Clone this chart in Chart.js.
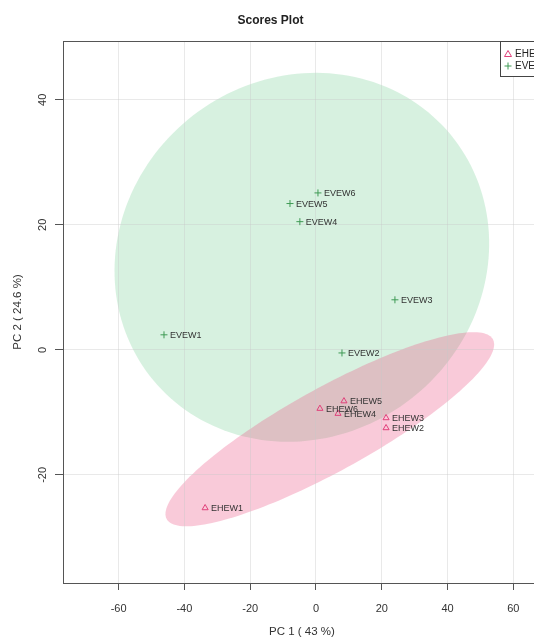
<!DOCTYPE html>
<html>
<head>
<meta charset="utf-8">
<title>Scores Plot</title>
<script src="https://cdn.jsdelivr.net/npm/chart.js@4/dist/chart.umd.min.js"></script>
<style>
  html, body { margin: 0; padding: 0; background: #fff; overflow: hidden; }
  #wrap { width: 534px; height: 642px; overflow: hidden; }
</style>
</head>
<body>
<div id="wrap"><canvas id="chart" width="594" height="642"></canvas></div>
<script>
// PCA scores, two groups
const ehewNames = ['EHEW1', 'EHEW2', 'EHEW3', 'EHEW4', 'EHEW5', 'EHEW6'];
const ehewPC1 = [-33.7, 21.3, 21.3, 6.7, 8.5, 1.2];
const ehewPC2 = [-25.3, -12.5, -10.9, -10.2, -8.2, -9.4];

const evewNames = ['EVEW1', 'EVEW2', 'EVEW3', 'EVEW4', 'EVEW5', 'EVEW6'];
const evewPC1 = [-46.2, 7.9, 24.0, -4.9, -7.9, 0.6];
const evewPC2 = [2.4, -0.5, 8.0, 20.5, 23.4, 25.1];

// 95% ellipses per group (EHEW, EVEW), in score units
const ellipseCenterX = [4.2, -4.3];
const ellipseCenterY = [-12.7, 14.8];
const ellipseSemiA = [51.8, 57.0];
const ellipseSemiB = [7.3, 29.4];
const ellipseAngleDeg = [15.5, 3.0];

const groupLabels = ['EHEW', 'EVEW'];
const xTicks = [-60, -40, -20, 0, 20, 40, 60];
const yTicks = [-20, 0, 20, 40];

const pink = '#e0407a';
const green = '#3f9a55';
const ellipseFills = ['rgba(236, 80, 130, 0.30)', 'rgba(20, 170, 70, 0.17)'];
const FONT = '"Liberation Sans", Arial, sans-serif';

function toPoints(xs, ys) {
  return xs.map((x, i) => ({ x: x, y: ys[i] }));
}

// ellipses go under the grid, so draw them before the scales
const ellipsePlugin = {
  id: 'ellipses',
  beforeDraw(chart) {
    const { ctx, chartArea, scales } = chart;
    ctx.save();
    ctx.beginPath();
    ctx.rect(chartArea.left, chartArea.top, chartArea.right - chartArea.left, chartArea.bottom - chartArea.top);
    ctx.clip();
    // EVEW first, EHEW on top
    [1, 0].forEach(g => {
      const th = ellipseAngleDeg[g] * Math.PI / 180;
      ctx.beginPath();
      for (let k = 0; k <= 180; k++) {
        const t = k / 180 * Math.PI * 2;
        const dx = ellipseSemiA[g] * Math.cos(t), dy = ellipseSemiB[g] * Math.sin(t);
        const vx = ellipseCenterX[g] + dx * Math.cos(th) - dy * Math.sin(th);
        const vy = ellipseCenterY[g] + dx * Math.sin(th) + dy * Math.cos(th);
        const px = scales.x.getPixelForValue(vx), py = scales.y.getPixelForValue(vy);
        if (k === 0) ctx.moveTo(px, py); else ctx.lineTo(px, py);
      }
      ctx.closePath();
      ctx.fillStyle = ellipseFills[g];
      ctx.fill();
    });
    ctx.restore();
  }
};

// sample names, box, rotated y tick labels, legend
const annotatePlugin = {
  id: 'annotate',
  afterDatasetsDraw(chart) {
    const { ctx, chartArea, scales } = chart;
    const names = [ehewNames, evewNames];
    ctx.save();
    ctx.font = '9px ' + FONT;
    ctx.fillStyle = '#333';
    ctx.textBaseline = 'middle';
    ctx.textAlign = 'left';
    chart.data.datasets.forEach((ds, i) => {
      chart.getDatasetMeta(i).data.forEach((pt, j) => {
        ctx.fillText(names[i][j], pt.x + 6, pt.y + 0.5);
      });
    });

    ctx.strokeStyle = '#555';
    ctx.lineWidth = 1;
    ctx.strokeRect(chartArea.left + 0.5, chartArea.top + 0.5, chartArea.right - chartArea.left, chartArea.bottom - chartArea.top);

    ctx.font = '11px ' + FONT;
    ctx.fillStyle = '#333';
    ctx.textAlign = 'center';
    yTicks.forEach(v => {
      const y = scales.y.getPixelForValue(v);
      ctx.save();
      ctx.translate(43, y);
      ctx.rotate(-Math.PI / 2);
      ctx.fillText(String(v), 0, 0);
      ctx.restore();
    });

    // legend box
    const lx = 500, ly = chartArea.top;
    ctx.fillStyle = '#fff';
    ctx.fillRect(lx, ly, 90, 35);
    ctx.strokeStyle = '#444';
    ctx.strokeRect(lx + 0.5, ly + 0.5, 90, 35);
    ctx.font = '10px ' + FONT;
    ctx.textAlign = 'left';
    const rows = [ly + 13, ly + 25];
    // triangle
    ctx.strokeStyle = pink;
    ctx.beginPath();
    ctx.moveTo(508, rows[0] - 3.5);
    ctx.lineTo(511.5, rows[0] + 2.5);
    ctx.lineTo(504.5, rows[0] + 2.5);
    ctx.closePath();
    ctx.stroke();
    // plus
    ctx.strokeStyle = green;
    ctx.beginPath();
    ctx.moveTo(504.5, rows[1]); ctx.lineTo(511.5, rows[1]);
    ctx.moveTo(508, rows[1] - 3.5); ctx.lineTo(508, rows[1] + 3.5);
    ctx.stroke();
    ctx.fillStyle = '#222';
    groupLabels.forEach((lab, i) => ctx.fillText(lab, 515, rows[i]));
    ctx.restore();
  }
};

const config = {
  type: 'scatter',
  data: {
    datasets: [
      {
        label: groupLabels[0],
        data: toPoints(ehewPC1, ehewPC2),
        pointStyle: 'triangle',
        pointRadius: 3.5,
        pointBorderWidth: 1,
        borderColor: pink,
        backgroundColor: 'rgba(0,0,0,0)'
      },
      {
        label: groupLabels[1],
        data: toPoints(evewPC1, evewPC2),
        pointStyle: 'cross',
        pointRadius: 3.5,
        pointBorderWidth: 1,
        borderColor: green,
        backgroundColor: green
      }
    ]
  },
  options: {
    responsive: false,
    animation: false,
    devicePixelRatio: 1,
    layout: { padding: { left: 0, right: 53, top: 0, bottom: 0 } },
    plugins: {
      legend: { display: false },
      tooltip: { enabled: false },
      title: {
        display: true,
        text: 'Scores Plot',
        color: '#222',
        font: { family: FONT, size: 12, weight: 'bold' },
        padding: { top: 13, bottom: 13.6 }
      }
    },
    scales: {
      x: {
        type: 'linear',
        min: -76.9,
        max: 68.4,
        afterBuildTicks: s => { s.ticks = xTicks.map(v => ({ value: v })); },
        afterFit: s => { s.height = 59; },
        grid: { color: 'rgba(200,200,200,0.4)', tickColor: '#555', tickLength: 7, drawTicks: true },
        border: { color: '#555' },
        ticks: { color: '#333', padding: 12, maxRotation: 0, font: { family: FONT, size: 11 } },
        title: {
          display: true,
          text: 'PC 1 ( 43 %)',
          color: '#333',
          font: { family: FONT, size: 11.5 },
          padding: { top: 0, bottom: 3 }
        }
      },
      y: {
        type: 'linear',
        min: -37.3,
        max: 49.4,
        afterBuildTicks: s => { s.ticks = yTicks.map(v => ({ value: v })); },
        afterFit: s => { s.width = 63; },
        grid: { color: 'rgba(200,200,200,0.4)', tickColor: '#555', tickLength: 8, drawTicks: true },
        border: { color: '#555' },
        ticks: { callback: () => '', font: { family: FONT, size: 11 } },
        title: {
          display: true,
          text: 'PC 2 ( 24.6 %)',
          color: '#333',
          font: { family: FONT, size: 11.5 },
          padding: { top: 11, bottom: 0 }
        }
      }
    }
  },
  plugins: [ellipsePlugin, annotatePlugin]
};

const myChart = new Chart(document.getElementById('chart'), config);
</script>
</body>
</html>
